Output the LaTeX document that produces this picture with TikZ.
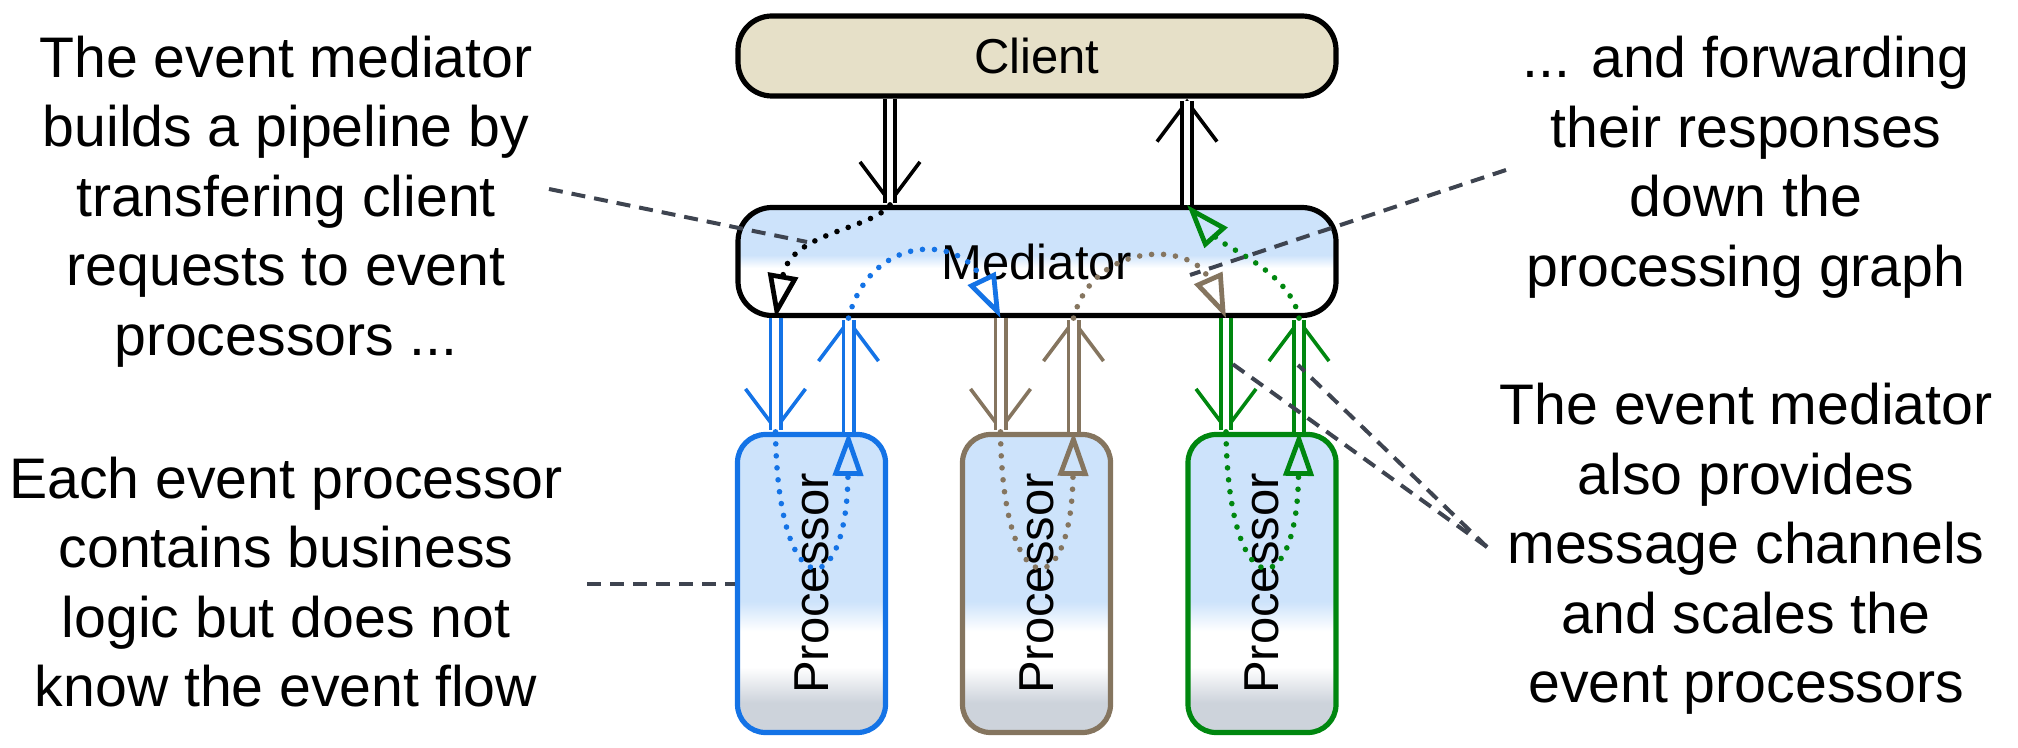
\documentclass[tikz,border=0pt]{standalone}
\usepackage{graphicx}
\usepackage{fontspec}
\setmainfont{Liberation Sans}
\usetikzlibrary{arrows.meta,calc}

\definecolor{boxblue}{RGB}{205,227,251}
\definecolor{procgray}{RGB}{205,211,219}
\definecolor{clientfill}{RGB}{230,224,200}
\definecolor{notegray}{RGB}{62,68,80}
\definecolor{procblue}{RGB}{20,115,230}
\definecolor{procbrown}{RGB}{133,117,95}
\definecolor{procgreen}{RGB}{0,135,15}

\pgfdeclareverticalshading{medshade}{100bp}{color(0bp)=(white); color(47bp)=(white); color(53bp)=(boxblue); color(100bp)=(boxblue)}
\pgfdeclareverticalshading{procshade}{100bp}{color(0bp)=(procgray); color(30bp)=(procgray); color(36bp)=(white); color(42bp)=(white); color(47bp)=(boxblue); color(100bp)=(boxblue)}

\tikzset{
  box/.style={draw, line width=2.6pt, rounded corners=17pt, minimum width=299pt, inner sep=0pt, font=\fontsize{24.5}{29}\selectfont},
  proc/.style={draw=#1, line width=2.6pt, rounded corners=14pt, shade, shading=procshade, minimum width=74pt, minimum height=149pt, inner sep=0pt, font=\fontsize{24.5}{29}\selectfont},
  note/.style={align=center, inner sep=0pt, font=\fontsize{28.6}{34.75}\selectfont},
  chan/.style={draw=#1, double=white, double distance=3.4pt, line width=1.8pt, shorten >=1pt},
  chantip/.style={draw=#1, line width=1.8pt, -{Straight Barb[length=20pt,width=30pt]}},
  flow/.style={draw=#1, line width=2.8pt, line cap=round, dash pattern=on 0pt off 6pt, -{Triangle[open,length=22pt,width=15pt,line width=2.4pt]}},
  callout/.style={draw=notegray, line width=2pt, dash pattern=on 7pt off 4.5pt}
}

\begin{document}
\begin{tikzpicture}[x=0.5pt, y=-0.5pt]
\useasboundingbox (0,0) rectangle (2018,748);

% client, mediator and the three processors
\node[box, fill=clientfill, minimum height=40pt] (client) at (1037,56) {Client};
\node[box, shade, shading=medshade, minimum height=54pt] (mediator) at (1037,261.5) {Mediator};
\foreach \i/\c/\x in {1/procblue/811.5, 2/procbrown/1036.5, 3/procgreen/1262}{
  \node[proc=\c] (proc\i) at (\x,583.5) {\rotatebox{90}{Processor}};
  \coordinate (in\i) at ($(proc\i.north)+(-36,0)$);
  \coordinate (out\i) at ($(proc\i.north)+(37,0)$);
}

% client channels
\coordinate (req) at (890,0);
\coordinate (resp) at (1187,0);
\draw[chantip=black] (client.south -| req) -- (mediator.north -| req);
\draw[chan=black] (client.south -| req) -- (mediator.north -| req);
\draw[chantip=black] (mediator.north -| resp) -- (client.south -| resp);
\draw[chan=black] (mediator.north -| resp) -- (client.south -| resp);

% processor channels and flow inside each processor
\foreach \i/\c in {1/procblue, 2/procbrown, 3/procgreen}{
  \draw[chantip=\c] (mediator.south -| in\i) -- (in\i);
  \draw[chan=\c] (mediator.south -| in\i) -- (in\i);
  \draw[chantip=\c] (out\i) -- (mediator.south -| out\i);
  \draw[chan=\c] (out\i) -- (mediator.south -| out\i);
  \draw[flow=\c] (in\i) .. controls +(2,174) and +(-2,174) .. (out\i);
}

% flow through the mediator
\draw[flow=black] (mediator.north -| req) .. controls +(-19,25) and +(15,-86) .. (mediator.south -| in1);
\draw[flow=procblue] (mediator.south -| out1) .. controls +(22,-84) and +(-40,-84) .. (mediator.south -| in2);
\draw[flow=procbrown] (mediator.south -| out2) .. controls +(20,-77) and +(-34,-77) .. (mediator.south -| in3);
\draw[flow=procgreen] (mediator.south -| out3) .. controls +(-8,-46) and +(38,43) .. (mediator.north -| resp);

% notes
\node[note] (reqtext) at (286,201.5) {The event mediator\\builds a pipeline by\\transfering client\\requests to event\\processors ...};
\node[note] (resptext) at (1746,167) {... and forwarding\\their responses\\down the\\processing graph};
\node[note] (proctext) at (286,582) {Each event processor\\contains business\\logic but does not\\know the event flow};
\node[note] (chantext) at (1746,549) {The event mediator\\also provides\\message channels\\and scales the\\event processors};

\coordinate (c1) at (549,189);
\coordinate (c1m) at (807,242);
\coordinate (c2) at (587,583.5);
\coordinate (c3) at (1506,170);
\coordinate (c3m) at (1190,275);
\coordinate (c4) at (1487,547);
\coordinate (c4a) at (1227,360);
\coordinate (c4b) at (1298,365);
\draw[callout] (c1) -- (c1m);
\draw[callout] (c2) -- (proc1.west);
\draw[callout] (c3) -- (c3m);
\draw[callout] (c4) -- (c4a);
\draw[callout] (c4) -- (c4b);
\end{tikzpicture}
\end{document}
